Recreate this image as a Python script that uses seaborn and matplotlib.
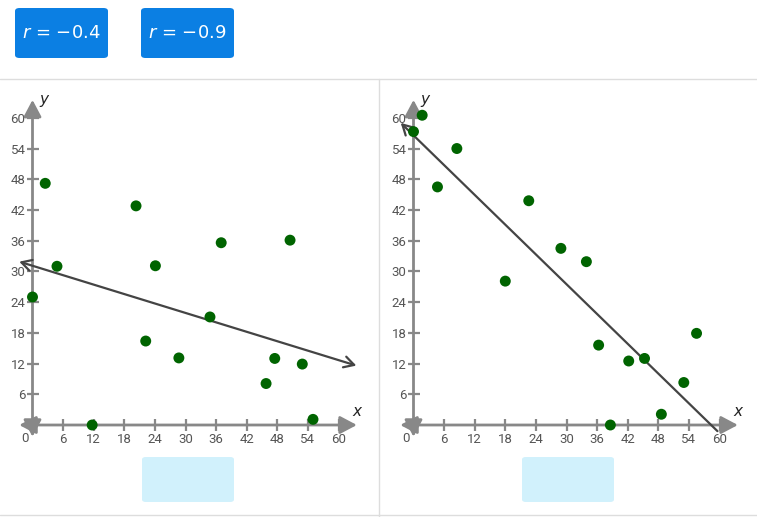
import numpy as np
import pandas as pd
import matplotlib
matplotlib.use("Agg")
import matplotlib.pyplot as plt
import seaborn as sns
from matplotlib.patches import FancyBboxPatch
from matplotlib.lines import Line2D

# --- data ---
r_labels = ["\u22120.4", "\u22120.9"]

left_x = [0, 4.8, 2.5, 20.3, 24.1, 37.0, 50.5, 34.8, 22.2, 28.7, 11.7, 47.5, 45.8, 52.9, 55.0]
left_y = [25, 31, 47.2, 42.8, 31.1, 35.6, 36.1, 21.1, 16.4, 13.1, 0, 13.0, 8.1, 11.9, 1.1]

right_x = [0, 1.7, 4.7, 8.5, 22.6, 28.9, 33.9, 18.0, 36.3, 42.2, 45.3, 55.5, 53.0, 48.6, 38.6]
right_y = [57.3, 60.5, 46.5, 54.0, 43.8, 34.5, 31.9, 28.1, 15.6, 12.5, 13.0, 17.9, 8.3, 2.1, 0]

# fitted line end points (x, y)
left_line = [(-2.6, 31.9), (63.5, 11.6)]
right_line = [(-2.5, 59.0), (59.6, -1.2)]

tick_vals = [6, 12, 18, 24, 30, 36, 42, 48, 54, 60]

sns.set_theme(style="white")
plt.rcParams["font.family"] = ["Roboto", "DejaVu Sans"]
plt.rcParams["mathtext.fontset"] = "dejavusans"

W, H = 757, 517
fig = plt.figure(figsize=(W / 100, H / 100), dpi=100)
fig.patch.set_facecolor("white")


def px_rect(x0, y0, x1, y1):
    # pixel box (top-left origin) -> figure fraction
    return x0 / W, 1 - y1 / H, (x1 - x0) / W, (y1 - y0) / H


# --- header buttons ---
for i, lab in enumerate(r_labels):
    bx = 15 + i * 126
    l, b, w, h = px_rect(bx, 8, bx + 93, 58)
    fig.patches.append(FancyBboxPatch((l, b), w, h, boxstyle="round,pad=0,rounding_size=0.006",
                                      transform=fig.transFigure, facecolor="#0b7fe3",
                                      edgecolor="none", zorder=1))
    fig.text(l + w / 2, b + h / 2, "$r$ = " + lab, ha="center", va="center",
             color="white", fontsize=13, family="DejaVu Sans", zorder=2)

# panel borders
fig.add_artist(Line2D([0, 1], [1 - 78.5 / H] * 2, color="#dddddd", lw=1))
fig.add_artist(Line2D([378.5 / W] * 2, [0, 1 - 78.5 / H], color="#dddddd", lw=1))
fig.add_artist(Line2D([0, 1], [1 - 515 / H] * 2, color="#dddddd", lw=1))

# blue answer boxes
for bx in (142, 522):
    l, b, w, h = px_rect(bx, 457, bx + 92, 502)
    fig.patches.append(FancyBboxPatch((l, b), w, h, boxstyle="round,pad=0,rounding_size=0.005",
                                      transform=fig.transFigure, facecolor="#d1f1fc",
                                      edgecolor="none"))

panels = [
    (32.5, left_x, left_y, left_line, "<->"),
    (413.5, right_x, right_y, right_line, "->"),
]

sx, sy = 5.1, 5.12
for ox, xs, ys, line, style in panels:
    x0, x1 = ox - 5 * sx, ox + 66 * sx
    y0, y1 = 425 - 66 * sy, 425 + 5 * sy
    ax = fig.add_axes(px_rect(x0, y0, x1, y1))
    ax.set_xlim(-5, 66)
    ax.set_ylim(-5, 66)
    ax.patch.set_alpha(0)
    for sp in ax.spines.values():
        sp.set_color("none")
    ax.spines["left"].set_position(("data", 0))
    ax.spines["bottom"].set_position(("data", 0))

    ax.set_xticks(tick_vals)
    ax.set_yticks(tick_vals)
    ax.tick_params(axis="both", direction="inout", length=9, width=1.6, color="#888888",
                   labelcolor="#555555", labelsize=9.5, pad=0.5, bottom=True, left=True)
    ax.tick_params(axis="x", pad=1)

    # axes with arrowheads
    arrow_kw = dict(arrowstyle="<|-|>,head_length=0.85,head_width=0.45", color="#888888",
                    lw=2, mutation_scale=12, shrinkA=0, shrinkB=0)
    ax.annotate("", xy=(63.6, 0), xytext=(-2.6, 0), arrowprops=arrow_kw, zorder=1)
    ax.annotate("", xy=(0, 63.5), xytext=(0, -2.3), arrowprops=arrow_kw, zorder=1)
    ax.text(-0.8, -1.4, "0", ha="right", va="top", color="#555555", fontsize=9.5)
    ax.text(63.7, 2.7, "x", ha="center", va="center", style="italic", fontsize=11,
            family="DejaVu Sans", color="#222222")
    ax.text(2.2, 63.6, "y", ha="center", va="center", style="italic", fontsize=11,
            family="DejaVu Sans", color="#222222")

    # fitted line
    (ax_s, ay_s), (ax_e, ay_e) = line
    ax.annotate("", xy=(ax_s, ay_s), xytext=(ax_e, ay_e), zorder=2,
                arrowprops=dict(arrowstyle=style + ",head_length=0.45,head_width=0.25",
                                color="#444444", lw=1.6, mutation_scale=16,
                                shrinkA=0, shrinkB=0))

    df = pd.DataFrame({"x": xs, "y": ys})
    sns.scatterplot(data=df, x="x", y="y", ax=ax, color="#006400", s=62,
                    edgecolor="none", zorder=3, clip_on=False)
    ax.set_xlabel("")
    ax.set_ylabel("")

fig.savefig("out.png", dpi=100)
